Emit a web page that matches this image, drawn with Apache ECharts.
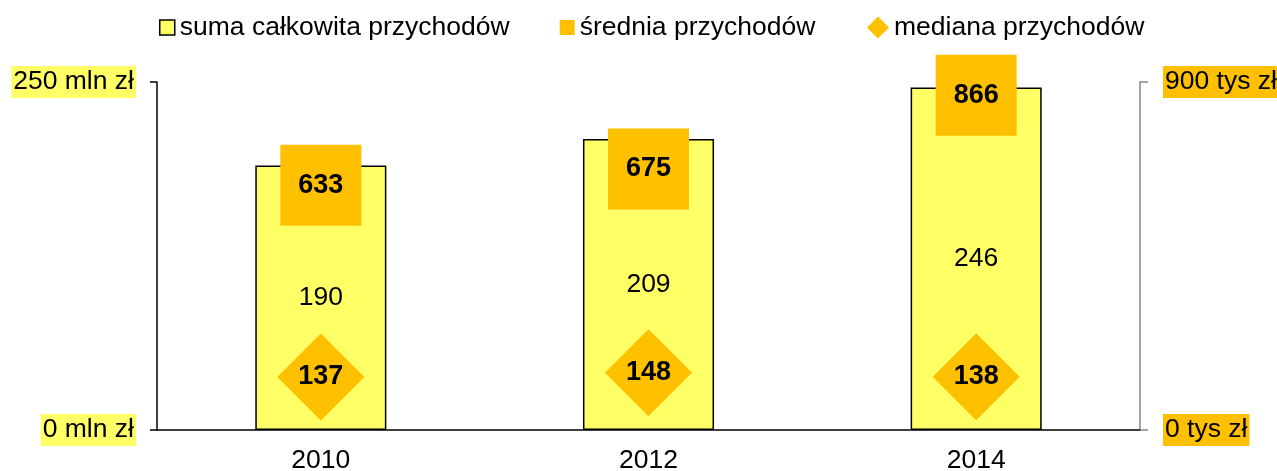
<!DOCTYPE html>
<html>
<head>
<meta charset="utf-8">
<script src="https://cdn.jsdelivr.net/npm/echarts@6/dist/echarts.min.js"></script>
<style>
  html, body { margin: 0; padding: 0; background: #fff; }
  #chart { width: 1277px; height: 471px; }
</style>
</head>
<body>
<div id="chart"></div>
<script>
// data
var years = ['2010', '2012', '2014'];
var sumaMln = [190, 209, 246];      // suma całkowita, mln zł (left axis)
var sredniaTys = [633, 675, 866];   // średnia, tys zł (right axis)
var medianaTys = [137, 148, 138];   // mediana, tys zł (right axis)
var leftTicks = [0, 250];
var rightTicks = [0, 900];

var font = '"Liberation Sans", Arial, sans-serif';
var yellow = '#FFFF66';
var orange = '#FFC000';
var fs = 26.5;
var legendText = { fontSize: fs, fontFamily: font, color: '#000' };

var chart = echarts.init(document.getElementById('chart'));
var option = {
  animation: false,
  textStyle: { fontFamily: font, color: '#000' },
  legend: [
    {
      top: 9,
      left: 154,
      itemWidth: 15,
      itemHeight: 15,
      itemGap: 50,
      textStyle: legendText,
      data: [
        { name: 'suma całkowita przychodów', icon: 'rect', itemStyle: { color: yellow, borderColor: '#000', borderWidth: 1.5 } },
        { name: 'średnia przychodów', icon: 'rect' }
      ]
    },
    {
      top: 9,
      left: 862,
      itemWidth: 22,
      itemHeight: 22,
      itemGap: 0,
      textStyle: legendText,
      data: [{ name: 'mediana przychodów', icon: 'diamond' }]
    }
  ],
  grid: { left: 157, right: 137, top: 82, bottom: 41, outerBoundsMode: 'none', containLabel: false },
  xAxis: {
    type: 'category',
    data: years,
    axisLine: { lineStyle: { color: '#000', width: 1.5 } },
    axisTick: { show: false },
    axisLabel: { fontSize: fs, fontFamily: font, color: '#000', margin: 17 }
  },
  yAxis: [
    {
      type: 'value',
      min: leftTicks[0],
      max: leftTicks[1],
      interval: leftTicks[1] - leftTicks[0],
      splitLine: { show: false },
      axisLine: { show: true, lineStyle: { color: '#000', width: 1.5 } },
      axisTick: { show: true, length: 7, lineStyle: { color: '#000', width: 1.5 } },
      axisLabel: {
        fontSize: fs, fontFamily: font, color: '#000', margin: 21,
        backgroundColor: yellow, padding: [3, 2, 2, 2],
        formatter: function (v) { return v + ' mln zł'; }
      }
    },
    {
      type: 'value',
      min: rightTicks[0],
      max: rightTicks[1],
      interval: rightTicks[1] - rightTicks[0],
      position: 'right',
      splitLine: { show: false },
      axisLine: { show: true, lineStyle: { color: '#868686', width: 1.5 } },
      axisTick: { show: true, length: 8, lineStyle: { color: '#868686', width: 1.5 } },
      axisLabel: {
        fontSize: fs, fontFamily: font, color: '#000', margin: 23,
        backgroundColor: orange, padding: [3, 2, 2, 2],
        formatter: function (v) { return v + ' tys zł'; }
      }
    }
  ],
  series: [
    {
      name: 'suma całkowita przychodów',
      type: 'bar',
      data: sumaMln,
      barWidth: '40%',
      itemStyle: { color: yellow, borderColor: '#000', borderWidth: 1.5 },
      label: { show: true, position: 'inside', fontSize: fs, fontFamily: font, color: '#000' }
    },
    {
      name: 'średnia przychodów',
      type: 'scatter',
      yAxisIndex: 1,
      data: sredniaTys,
      symbol: 'rect',
      symbolSize: 81,
      z: 3,
      itemStyle: { color: orange, opacity: 1 },
      label: { show: true, position: 'inside', fontSize: 27, fontWeight: 'bold', fontFamily: font, color: '#000' }
    },
    {
      name: 'mediana przychodów',
      type: 'scatter',
      yAxisIndex: 1,
      data: medianaTys,
      symbol: 'diamond',
      symbolSize: 87,
      z: 3,
      itemStyle: { color: orange, opacity: 1 },
      label: { show: true, position: 'inside', fontSize: 27, fontWeight: 'bold', fontFamily: font, color: '#000' }
    }
  ]
};
chart.setOption(option);
</script>
</body>
</html>
